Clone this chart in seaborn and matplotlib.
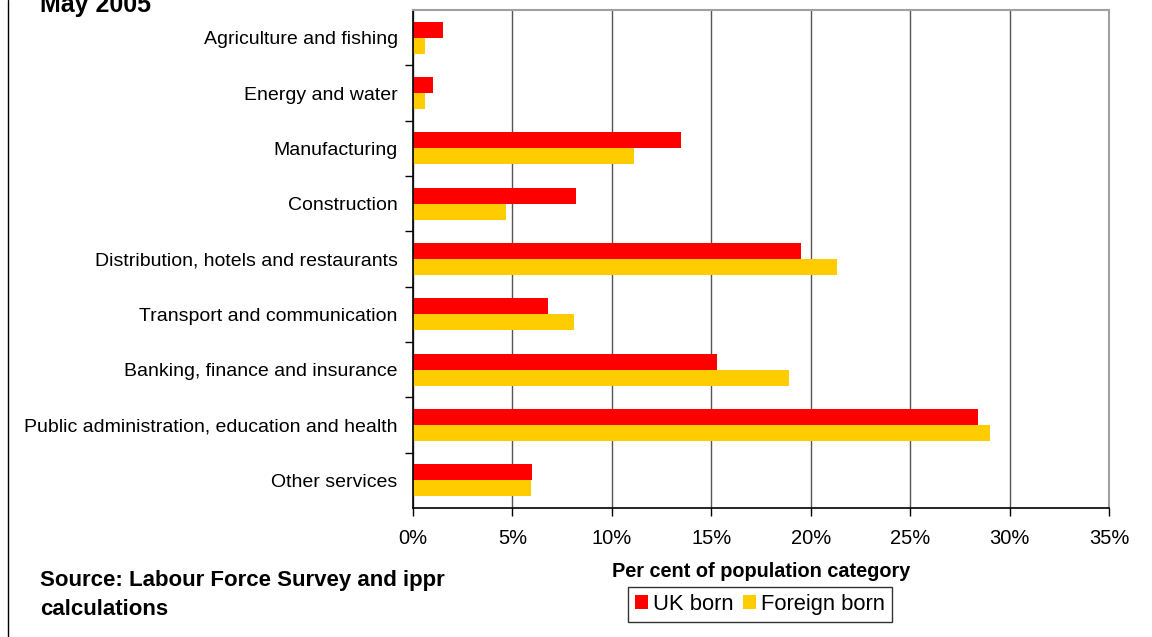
import matplotlib
matplotlib.use("Agg")
import matplotlib.pyplot as plt
import seaborn as sns
import pandas as pd
import numpy as np
from matplotlib.lines import Line2D
from matplotlib.patches import Patch

categories = [
    "Agriculture and fishing",
    "Energy and water",
    "Manufacturing",
    "Construction",
    "Distribution, hotels and restaurants",
    "Transport and communication",
    "Banking, finance and insurance",
    "Public administration, education and health",
    "Other services",
]
uk_born = [1.5, 1.0, 13.5, 8.2, 19.5, 6.8, 15.3, 28.4, 6.0]
foreign_born = [0.6, 0.6, 11.1, 4.7, 21.3, 8.1, 18.9, 29.0, 5.95]
series_names = ["UK born", "Foreign born"]
x_ticks = [0, 5, 10, 15, 20, 25, 30, 35]

df = pd.DataFrame({
    "category": categories * 2,
    "value": uk_born + foreign_born,
    "series": [series_names[0]] * len(categories) + [series_names[1]] * len(categories),
})

sns.set_theme(style="white")
plt.rcParams["font.family"] = ["Liberation Sans", "DejaVu Sans"]
plt.rcParams["text.color"] = "black"
plt.rcParams["xtick.color"] = "black"
plt.rcParams["ytick.color"] = "black"
plt.rcParams["axes.labelcolor"] = "black"

colors = ["#FF0000", "#FFCC00"]
fig = plt.figure(figsize=(11.52, 6.37), dpi=100)
ax = fig.add_axes([413/1152, 1 - 508/637, (1109-413)/1152, (508-10)/637])

sns.barplot(data=df, y="category", x="value", hue="series", order=categories,
            hue_order=series_names, palette=colors, orient="h", width=0.58,
            saturation=1, ax=ax, legend=False, linewidth=0)

ax.set_xlim(0, 35)
ax.set_ylim(len(categories) - 0.5, -0.5)
ax.set_xticks(x_ticks)
ax.set_xticklabels([f"{t}%" for t in x_ticks], fontsize=14.5)
ax.set_yticks(range(len(categories)))
ax.set_yticklabels(categories, fontsize=14)
ax.set_yticks(np.arange(len(categories) - 1) + 0.5, minor=True)
ax.tick_params(axis="y", which="major", length=0, pad=11)
ax.tick_params(axis="y", which="minor", length=6, width=1, color="black", direction="out", left=True)
ax.tick_params(axis="x", which="major", length=6, width=1, color="black", direction="out", bottom=True, pad=9)
ax.set_ylabel("")
ax.set_xlabel("Per cent of population category", fontsize=14.3, fontweight="bold", labelpad=10)

ax.grid(axis="x", color="#555555", linewidth=1)
ax.grid(axis="y", visible=False)
ax.set_axisbelow(True)
for s in ["top", "right"]:
    ax.spines[s].set_color("#A0A0A0")
    ax.spines[s].set_linewidth(1.5)
for s in ["left", "bottom"]:
    ax.spines[s].set_color("black")
    ax.spines[s].set_linewidth(1.2)

fig.add_artist(Line2D([8/1152, 8/1152], [0, 1], color="black", linewidth=1, transform=fig.transFigure))

fig.text(40/1152, 1 - 12/637, "May 2005", fontsize=18, fontweight="bold", va="baseline", ha="left")
fig.text(40/1152, 1 - 595/637, "Source: Labour Force Survey and ippr\ncalculations",
         fontsize=16, fontweight="bold", va="center", ha="left", linespacing=1.45)

handles = [Patch(facecolor=c, edgecolor="none") for c in colors]
leg = fig.legend(handles, series_names, loc="center", bbox_to_anchor=(760/1152, 1 - 604.5/637),
                 ncol=2, frameon=True, fancybox=False, fontsize=15.8, handlelength=0.6,
                 handleheight=0.6, handletextpad=0.25, columnspacing=0.4, borderpad=0.3,
                 borderaxespad=0)
leg.get_frame().set_edgecolor("black")
leg.get_frame().set_linewidth(1)

fig.savefig("out.png", dpi=100)
